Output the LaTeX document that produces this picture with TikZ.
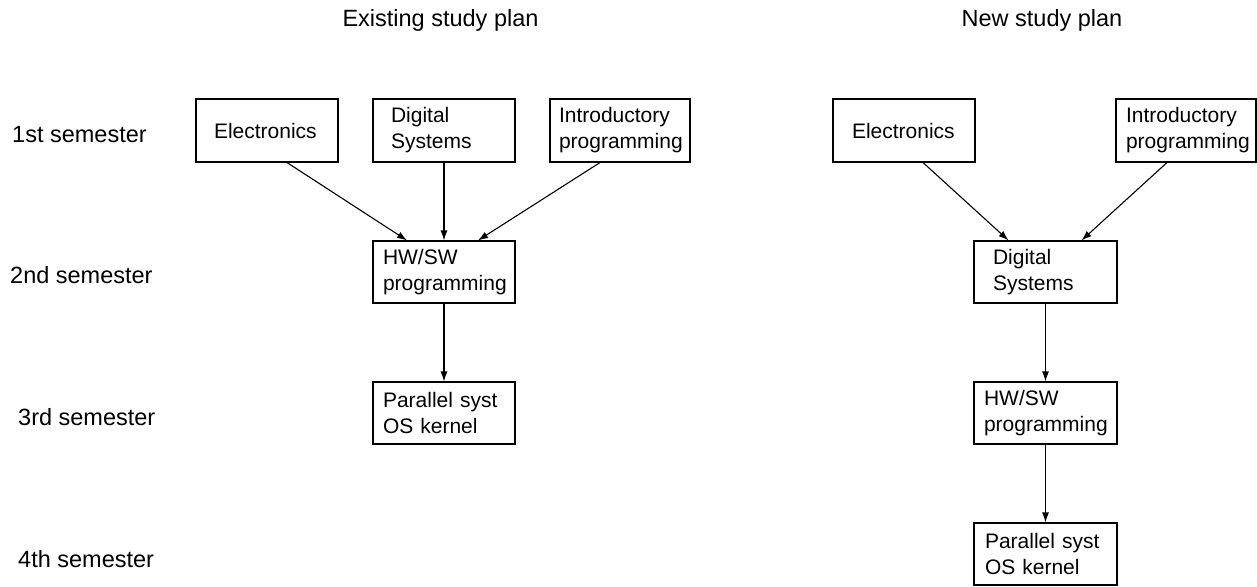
\documentclass[tikz,border=0pt]{standalone}
\usepackage{fontspec}
\setmainfont{Liberation Sans}
\usetikzlibrary{arrows.meta,calc}
\begin{document}
\begin{tikzpicture}[x=1pt,y=-1pt,
  course/.style={draw,line width=1.1pt,minimum height=62pt,inner ysep=0pt,align=left,
    font={\fontsize{21}{26}\selectfont\lefthyphenmin=62\righthyphenmin=62}},
  arr/.style={line width=1.1pt,-{Latex[length=10pt,width=7pt]}},
  lbl/.style={inner sep=0pt,font=\fontsize{23.5}{28}\selectfont}]
\useasboundingbox (0,0) rectangle (1257,586);
% titles
\node[lbl,anchor=base] (t1) at (440.5,27) {Existing study plan};
\node[lbl,anchor=base] (t2) at (1042,27) {New study plan};
% semester labels
\node[lbl,anchor=west] (s1) at (12,134.5) {1st semester};
\node[lbl,anchor=west] (s2) at (10,275) {2nd semester};
\node[lbl,anchor=west] (s3) at (18,417) {3rd semester};
\node[lbl,anchor=west] (s4) at (18,559) {4th semester};
% existing plan
\node[course,minimum height=63pt,inner xsep=18pt,text width=106pt] (lelec) at (267,130.5) {Electronics};
\node[course,minimum height=63pt,inner xsep=18pt,text width=106pt] (ldig) at (444,130.5) {Digital\\Systems};
\node[course,minimum height=63pt,inner xsep=9pt,text width=122pt] (lintro) at (620,130.5) {Introductory\\programming};
\node[course,inner xsep=10pt,text width=122pt] (lhw) at (444,272) {HW/SW\\programming};
\node[course,inner xsep=10pt,text width=122pt] (lpar) at (444,413) {Parallel syst\\OS kernel};
\draw[arr] ($(lelec.south)+(20,0)$) -- ($(lhw.north)+(-37,0)$);
\draw[arr] (ldig.south) -- (lhw.north);
\draw[arr] ($(lintro.south)+(-20,0)$) -- ($(lhw.north)+(34,0)$);
\draw[arr] (lhw.south) -- (lpar.north);
% new plan
\node[course,minimum height=63pt,inner xsep=19pt,text width=104pt] (relec) at (904,130.5) {Electronics};
\node[course,minimum height=63pt,inner xsep=10pt,text width=120pt] (rintro) at (1186,130.5) {Introductory\\programming};
\node[course,inner xsep=19pt,text width=105pt] (rdig) at (1045.5,272) {Digital\\Systems};
\node[course,inner xsep=10pt,text width=123pt] (rhw) at (1045.5,413) {HW/SW\\programming};
\node[course,inner xsep=11pt,text width=121pt] (rpar) at (1045.5,554) {Parallel syst\\OS kernel};
\draw[arr] ($(relec.south)+(19,0)$) -- ($(rdig.north)+(-37,0)$);
\draw[arr] ($(rintro.south)+(-19,0)$) -- ($(rdig.north)+(36,0)$);
\draw[arr] (rdig.south) -- (rhw.north);
\draw[arr] (rhw.south) -- (rpar.north);
\end{tikzpicture}
\end{document}
